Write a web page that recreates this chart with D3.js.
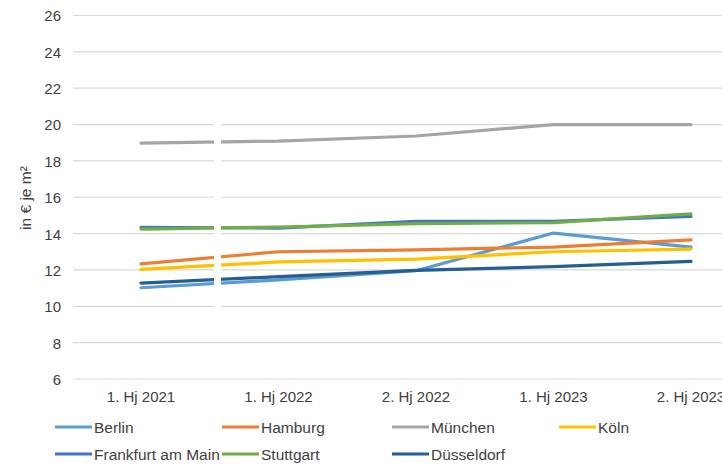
<!DOCTYPE html>
<html>
<head>
<meta charset="utf-8">
<script src="https://cdn.jsdelivr.net/npm/d3@7/dist/d3.min.js"></script>
<style>
  html, body { margin: 0; padding: 0; background: #fff; }
  svg { display: block; }
  text { font-family: "Liberation Sans", Arial, sans-serif; fill: #404040; }
</style>
</head>
<body>
<svg id="chart" width="722" height="465"></svg>
<script>
const categories = ["1. Hj 2021", "1. Hj 2022", "2. Hj 2022", "1. Hj 2023", "2. Hj 2023"];
const yTicks = [6, 8, 10, 12, 14, 16, 18, 20, 22, 24, 26];
const berlin     = [11.02, 11.45, 11.96, 14.03, 13.26];
const hamburg    = [12.33, 13.0, 13.1, 13.26, 13.65];
const muenchen   = [18.98, 19.09, 19.37, 20.0, 20.0];
const koeln      = [12.03, 12.44, 12.6, 13.0, 13.15];
const frankfurt  = [14.35, 14.3, 14.68, 14.68, 14.95];
const stuttgart  = [14.25, 14.36, 14.55, 14.6, 15.08];
const duesseldorf= [11.28, 11.63, 11.98, 12.18, 12.47];
const seriesNames = ["Berlin", "Hamburg", "München", "Köln", "Frankfurt am Main", "Stuttgart", "Düsseldorf"];
const seriesColors = ["#5B9BD5", "#ED7D31", "#A5A5A5", "#FFC000", "#4472C4", "#70AD47", "#255E91"];
const seriesValues = [berlin, hamburg, muenchen, koeln, frankfurt, stuttgart, duesseldorf];
const drawOrder = [0, 1, 2, 3, 4, 5, 6];

const svg = d3.select("#chart");
const x = d3.scaleBand().domain(categories).range([72.25, 759.75]);
const y = d3.scaleLinear().domain([6, 26]).range([379, 15.5]);

// gridlines
svg.append("g").selectAll("line").data(yTicks).join("line")
  .attr("x1", 73).attr("x2", 722)
  .attr("y1", d => y(d)).attr("y2", d => y(d))
  .attr("stroke", "#d9d9d9").attr("stroke-width", 1.2);

// y axis labels
const yAxis = d3.axisLeft(y).tickValues(yTicks).tickSize(0).tickPadding(0);
const gy = svg.append("g").attr("transform", "translate(61,0)").call(yAxis);
gy.select(".domain").remove();
gy.selectAll("text").attr("font-size", "15px").attr("fill", "#404040")
  .style("font-family", "'Liberation Sans', Arial, sans-serif").attr("dy", "0.36em");

// x axis labels
const xAxis = d3.axisBottom(x).tickSize(0).tickPadding(0);
const gx = svg.append("g").attr("transform", "translate(0,391)").call(xAxis);
gx.select(".domain").remove();
gx.selectAll("text").attr("font-size", "15px").attr("fill", "#404040")
  .style("font-family", "'Liberation Sans', Arial, sans-serif").attr("dy", "0.71em");

// y title
svg.append("text")
  .attr("transform", "translate(31,198) rotate(-90)")
  .attr("text-anchor", "middle")
  .attr("font-size", "15.5px")
  .text("in € je m²");

// lines
const line = d3.line()
  .x((d, i) => x(categories[i]) + x.bandwidth() / 2)
  .y(d => y(d));

svg.append("g").selectAll("path").data(drawOrder).join("path")
  .attr("d", i => line(seriesValues[i]))
  .attr("fill", "none")
  .attr("stroke", i => seriesColors[i])
  .attr("stroke-width", 3.2)
  .attr("stroke-linejoin", "round")
  .attr("stroke-linecap", "round");

// white vertical break artifact
svg.append("rect").attr("x", 214).attr("y", 118).attr("width", 7).attr("height", 192).attr("fill", "#fff");

// legend
const legCols = [55, 222, 392, 559];
const legRows = [427, 454];
const leg = svg.append("g");
seriesNames.forEach((name, i) => {
  const col = i < 4 ? i : i - 4;
  const row = i < 4 ? 0 : 1;
  const lx = legCols[col], ly = legRows[row];
  leg.append("line").attr("x1", lx).attr("x2", lx + 37).attr("y1", ly).attr("y2", ly)
    .attr("stroke", seriesColors[i]).attr("stroke-width", 3.2);
  leg.append("text").attr("x", lx + 39).attr("y", ly).attr("dy", "0.36em")
    .attr("font-size", "15.5px").text(name);
});
</script>
</body>
</html>
